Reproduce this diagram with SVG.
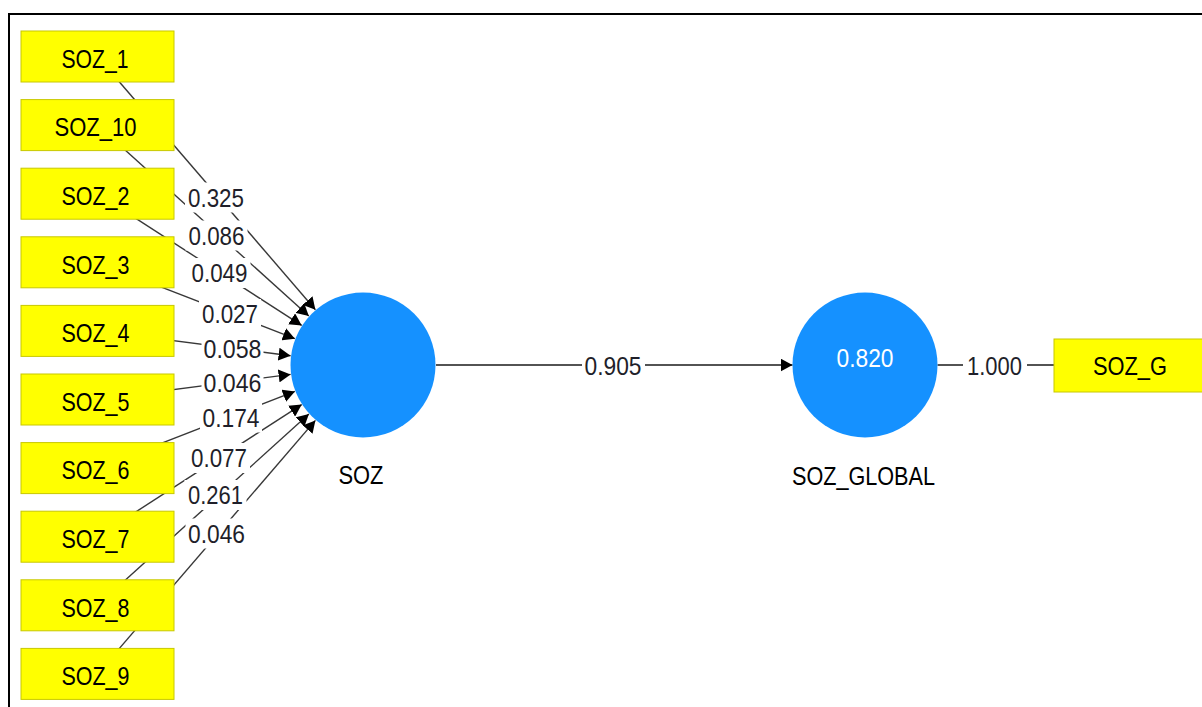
<svg xmlns="http://www.w3.org/2000/svg" width="1202" height="707" viewBox="0 0 1202 707">
<style>
.frame{fill:none;stroke:#000;stroke-width:2}
.ind{fill:#FFFF00;stroke:#C8C800;stroke-width:1}
.lv{fill:#1591FF}
.t{font-family:"Liberation Sans",Arial,sans-serif;font-size:25px;fill:#000;text-anchor:middle}
.num{font-family:"Liberation Sans",Arial,sans-serif;font-size:25px;fill:#1f1f2a;text-anchor:middle}
.wnum{font-family:"Liberation Sans",Arial,sans-serif;font-size:25px;fill:#fff;text-anchor:middle}
.ln{stroke:#383838;stroke-width:1.4;fill:none}
.main{stroke:#1a1a1a;stroke-width:1.7;fill:none}
.bg{fill:#fff}
</style>
<defs>
<marker id="ah" markerUnits="userSpaceOnUse" markerWidth="12" markerHeight="13" refX="12" refY="6.5" orient="auto">
<path d="M0,0 L12,6.5 L0,13 z" fill="#000"/>
</marker>
</defs>
<rect width="1202" height="707" fill="#fff"/>
<path class="frame" d="M9,707 V14 H1202"/>
<g id="connectors">
<line class="ln" x1="97.5" y1="56.5" x2="315.4" y2="309.7" marker-end="url(#ah)"/>
<line class="ln" x1="97.5" y1="125.1" x2="308.8" y2="316.1" marker-end="url(#ah)"/>
<line class="ln" x1="97.5" y1="193.7" x2="301.7" y2="325.4" marker-end="url(#ah)"/>
<line class="ln" x1="97.5" y1="262.3" x2="294.9" y2="338.7" marker-end="url(#ah)"/>
<line class="ln" x1="97.5" y1="330.9" x2="290.6" y2="355.7" marker-end="url(#ah)"/>
<line class="ln" x1="97.5" y1="399.5" x2="290.6" y2="374.4" marker-end="url(#ah)"/>
<line class="ln" x1="97.5" y1="468.1" x2="294.9" y2="391.4" marker-end="url(#ah)"/>
<line class="ln" x1="97.5" y1="536.7" x2="301.7" y2="404.6" marker-end="url(#ah)"/>
<line class="ln" x1="97.5" y1="605.3" x2="308.9" y2="414.0" marker-end="url(#ah)"/>
<line class="ln" x1="97.5" y1="673.9" x2="315.4" y2="420.4" marker-end="url(#ah)"/>
<line class="main" x1="436" y1="365" x2="792.5" y2="365" marker-end="url(#ah)"/>
<line class="main" x1="937.5" y1="365" x2="1054" y2="365"/>
<g id="labels">
<rect class="bg" x="185" y="182.5" width="62" height="30"/>
<rect class="bg" x="185.5" y="220.5" width="62" height="30"/>
<rect class="bg" x="188.5" y="258" width="62" height="30"/>
<rect class="bg" x="199" y="299" width="62" height="30"/>
<rect class="bg" x="201.5" y="334" width="62" height="30"/>
<rect class="bg" x="201.5" y="367.5" width="62" height="30"/>
<rect class="bg" x="200" y="402.5" width="62" height="30"/>
<rect class="bg" x="188" y="443" width="62" height="30"/>
<rect class="bg" x="184.5" y="480" width="62" height="30"/>
<rect class="bg" x="185.5" y="518.5" width="62" height="30"/>
<rect class="bg" x="582" y="350" width="63" height="30"/>
<rect class="bg" x="963" y="350" width="64" height="30"/>
<text class="num" x="216" y="206.5" textLength="56" lengthAdjust="spacingAndGlyphs">0.325</text>
<text class="num" x="216.5" y="244.5" textLength="56" lengthAdjust="spacingAndGlyphs">0.086</text>
<text class="num" x="219.5" y="282" textLength="56" lengthAdjust="spacingAndGlyphs">0.049</text>
<text class="num" x="230" y="323" textLength="56" lengthAdjust="spacingAndGlyphs">0.027</text>
<text class="num" x="232.5" y="358" textLength="58" lengthAdjust="spacingAndGlyphs">0.058</text>
<text class="num" x="232.5" y="391.5" textLength="58" lengthAdjust="spacingAndGlyphs">0.046</text>
<text class="num" x="231" y="426.5" textLength="57" lengthAdjust="spacingAndGlyphs">0.174</text>
<text class="num" x="219" y="467" textLength="56" lengthAdjust="spacingAndGlyphs">0.077</text>
<text class="num" x="215.5" y="504" textLength="55" lengthAdjust="spacingAndGlyphs">0.261</text>
<text class="num" x="216.5" y="542.5" textLength="57" lengthAdjust="spacingAndGlyphs">0.046</text>
<text class="num" x="613" y="374.5" textLength="57" lengthAdjust="spacingAndGlyphs">0.905</text>
<text class="num" x="994.5" y="374.5" textLength="55" lengthAdjust="spacingAndGlyphs">1.000</text>
</g>
</g>
<g id="SOZ_1"><rect class="ind" x="21" y="31" width="153" height="51"/><text class="t" x="95" y="68" textLength="67" lengthAdjust="spacingAndGlyphs">SOZ_1</text></g>
<g id="SOZ_10"><rect class="ind" x="21" y="99.6" width="153" height="51"/><text class="t" x="95.5" y="136.3" textLength="82" lengthAdjust="spacingAndGlyphs">SOZ_10</text></g>
<g id="SOZ_2"><rect class="ind" x="21" y="168.2" width="153" height="51"/><text class="t" x="95.5" y="204.9" textLength="68" lengthAdjust="spacingAndGlyphs">SOZ_2</text></g>
<g id="SOZ_3"><rect class="ind" x="21" y="236.8" width="153" height="51"/><text class="t" x="95.5" y="273.5" textLength="68" lengthAdjust="spacingAndGlyphs">SOZ_3</text></g>
<g id="SOZ_4"><rect class="ind" x="21" y="305.4" width="153" height="51"/><text class="t" x="95.5" y="342.1" textLength="68" lengthAdjust="spacingAndGlyphs">SOZ_4</text></g>
<g id="SOZ_5"><rect class="ind" x="21" y="374" width="153" height="51"/><text class="t" x="95.5" y="410.7" textLength="68" lengthAdjust="spacingAndGlyphs">SOZ_5</text></g>
<g id="SOZ_6"><rect class="ind" x="21" y="442.6" width="153" height="51"/><text class="t" x="95.5" y="479.3" textLength="68" lengthAdjust="spacingAndGlyphs">SOZ_6</text></g>
<g id="SOZ_7"><rect class="ind" x="21" y="511.2" width="153" height="51"/><text class="t" x="95.5" y="547.9" textLength="68" lengthAdjust="spacingAndGlyphs">SOZ_7</text></g>
<g id="SOZ_8"><rect class="ind" x="21" y="579.8" width="153" height="51"/><text class="t" x="95.5" y="616.5" textLength="68" lengthAdjust="spacingAndGlyphs">SOZ_8</text></g>
<g id="SOZ_9"><rect class="ind" x="21" y="648.4" width="153" height="51"/><text class="t" x="95.5" y="685.1" textLength="68" lengthAdjust="spacingAndGlyphs">SOZ_9</text></g>
<g id="SOZ"><circle class="lv" cx="363" cy="365" r="72.5"/><text class="t" x="361" y="484" textLength="45" lengthAdjust="spacingAndGlyphs">SOZ</text></g>
<g id="SOZ_GLOBAL"><circle class="lv" cx="865" cy="365" r="72.5"/><text class="wnum" x="865" y="367" textLength="57" lengthAdjust="spacingAndGlyphs">0.820</text><text class="t" x="863.5" y="485" textLength="143" lengthAdjust="spacingAndGlyphs">SOZ_GLOBAL</text></g>
<g id="SOZ_G"><rect class="ind" x="1054" y="339" width="160" height="53"/><text class="t" x="1130" y="375" textLength="74" lengthAdjust="spacingAndGlyphs">SOZ_G</text></g>
</svg>
